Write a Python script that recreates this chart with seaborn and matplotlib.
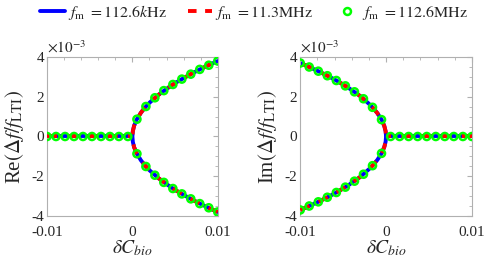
import numpy as np
import pandas as pd
import matplotlib
matplotlib.use("Agg")
import matplotlib.pyplot as plt
from matplotlib.ticker import MultipleLocator, FixedLocator
import seaborn as sns

# line samples (x = dC_bio, y in units of 1e-3)
dc_zero = [-0.01, 0.0]
val_zero = [0.0, 0.0]

dc_branch = [0.0, 0.00005, 0.0002, 0.0005, 0.001, 0.0015, 0.002, 0.003,
             0.004, 0.005, 0.006, 0.007, 0.008, 0.009, 0.01]
re_branch = [0.0, 0.27, 0.54, 0.85, 1.20, 1.47, 1.70, 2.08,
             2.40, 2.69, 2.94, 3.18, 3.40, 3.61, 3.80]
im_branch = [0.0, 0.26, 0.52, 0.83, 1.17, 1.43, 1.65, 2.03,
             2.34, 2.62, 2.87, 3.10, 3.31, 3.51, 3.70]

# marker samples (f_m = 112.6MHz)
dc_marker_pos = [0.00053, 0.00158, 0.00263, 0.00368, 0.00474, 0.00579,
                 0.00684, 0.00789, 0.00895, 0.01]
re_marker = [0.87, 1.51, 1.95, 2.31, 2.62, 2.89, 3.14, 3.38, 3.59, 3.80]
im_marker = [0.85, 1.47, 1.90, 2.25, 2.55, 2.82, 3.06, 3.29, 3.50, 3.70]

legend_labels = [r"$f_{\mathrm{m}}\ =112.6k\mathrm{Hz}$",
                 r"$f_{\mathrm{m}}\ =11.3\mathrm{MHz}$",
                 r"$f_{\mathrm{m}}\ =112.6\mathrm{MHz}$"]

sns.set_style("white")
plt.rcParams["font.family"] = ["Liberation Serif", "DejaVu Serif"]
plt.rcParams["mathtext.fontset"] = "stix"
plt.rcParams["axes.unicode_minus"] = False

fig = plt.figure(figsize=(4.85, 2.63), dpi=100)
ax_re = fig.add_axes([0.097, 0.179, 0.352, 0.604])
ax_im = fig.add_axes([0.619, 0.179, 0.354, 0.604])

LW = 2.8


def draw_panel(ax, sign, branch, markers, ylabel):
    # zero segment on one side, square-root-like branch on the other
    zx = [sign * v for v in dc_zero]
    bx = [sign * v for v in dc_branch[::-1]] + [sign * v for v in dc_branch[1:]]
    by = [-v for v in branch[::-1]] + branch[1:]
    mz = [sign * -v for v in dc_marker_pos[::-1]]
    mx = [sign * v for v in dc_marker_pos] * 2
    my = markers + [-v for v in markers]

    curve = pd.DataFrame({"x": bx, "y": by})
    flat = pd.DataFrame({"x": zx, "y": val_zero})
    for df in (flat, curve):
        sns.lineplot(data=df, x="x", y="y", ax=ax, sort=False, estimator=None,
                     color="#0000ff", lw=LW, zorder=2)
        sns.lineplot(data=df, x="x", y="y", ax=ax, sort=False, estimator=None,
                     color="#ff0000", lw=LW, dashes=False, zorder=3,
                     linestyle=(0, (2.6, 2.6)))
    pts = pd.DataFrame({"x": mz + mx, "y": [0.0] * len(mz) + my})
    sns.scatterplot(data=pts, x="x", y="y", ax=ax, s=26, facecolor="none",
                    edgecolor="#00ff00", linewidth=1.8, zorder=4)

    ax.set_xlim(-0.01, 0.01)
    ax.set_ylim(-4, 4)
    ax.xaxis.set_major_locator(FixedLocator([-0.01, 0, 0.01]))
    ax.set_xticklabels(["-0.01", "0", "0.01"])
    ax.xaxis.set_minor_locator(MultipleLocator(0.002))
    ax.yaxis.set_major_locator(MultipleLocator(2))
    ax.yaxis.set_minor_locator(MultipleLocator(0.5))
    ax.tick_params(which="both", direction="in", top=True, right=True,
                   color="#b0b0b0", labelsize=11, labelcolor="#262626")
    ax.tick_params(axis="x", pad=7)
    ax.tick_params(axis="y", pad=2)
    ax.tick_params(which="major", length=3.5)
    ax.tick_params(which="minor", length=2.5)
    for sp in ax.spines.values():
        sp.set_color("#b0b0b0")
        sp.set_linewidth(0.8)
    ax.set_xlabel(r"$\delta C_{bio}$", fontsize=14, color="#262626", labelpad=0)
    ax.set_ylabel(ylabel, fontsize=15, color="#262626", labelpad=4)
    ax.text(0.0, 1.01, r"$\times 10^{-3}$", transform=ax.transAxes,
            fontsize=11, color="#262626", ha="left", va="bottom")


draw_panel(ax_re, 1, re_branch, re_marker,
           r"Re$(\Delta f/f_{\mathrm{LTI}})$")
draw_panel(ax_im, -1, im_branch, im_marker,
           r"Im$(\Delta f/f_{\mathrm{LTI}})$")

handles = [
    plt.Line2D([], [], color="#0000ff", lw=LW),
    plt.Line2D([], [], color="#ff0000", lw=LW, linestyle=(0, (2.2, 2.2))),
    plt.Line2D([], [], color="#00ff00", lw=0, marker="o", markersize=5,
               markerfacecolor="none", markeredgewidth=1.8),
]
fig.legend(handles, legend_labels, loc="upper center", ncol=3,
           bbox_to_anchor=(0.524, 1.045), frameon=False, fontsize=11.5,
           handlelength=1.55, handletextpad=0.2, columnspacing=1.3)

fig.savefig("out.png", dpi=100)
